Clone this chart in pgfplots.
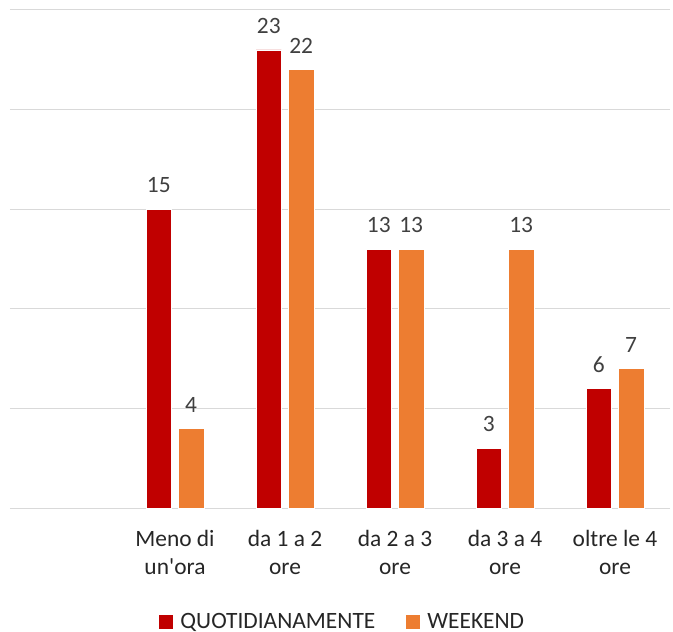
\documentclass[border=0pt]{standalone}
\usepackage{fontspec}
\setmainfont{Carlito}
\usepackage{pgfplots}
\pgfplotsset{compat=1.18}
\definecolor{cRed}{HTML}{C00000}
\definecolor{cOrange}{HTML}{ED7D31}
\definecolor{cGrid}{HTML}{D9D9D9}
\definecolor{cLabel}{HTML}{404040}
\definecolor{cText}{HTML}{262626}
\begin{document}
\begin{tikzpicture}
\begin{axis}[
  at={(0,0)}, anchor=south west,
  scale only axis, width=660bp, height=498bp,
  xmin=-0.5, xmax=5.5, ymin=0, ymax=25,
  ybar, bar width=0.23,
  axis x line*=bottom,
  axis y line*=left,
  x axis line style={cGrid, line width=1bp, -},
  y axis line style={draw=none},
  ytick={0,5,10,15,20,25},
  yticklabel=\empty,
  ymajorgrids,
  major grid style={cGrid, line width=1bp},
  xtick={1,2,3,4,5},
  xticklabels={{Meno di\\un\textquotesingle ora},{da 1 a 2\\ore},{da 2 a 3\\ore},{da 3 a 4\\ore},{oltre le 4\\ore}},
  xticklabel style={align=center, font=\fontsize{23.5}{28}\selectfont, text=cText, yshift=-19bp},
  major tick length=0pt,
  /pgf/number format/assume math mode=true,
  nodes near coords,
  every node near coord/.append style={font=\fontsize{23.5}{28}\selectfont, text=cLabel, anchor=south, inner sep=0pt, yshift=16bp},
  legend columns=2,
  legend style={at={(axis description cs:0.505,-0.228)}, anchor=center, draw=none, fill=none,
    font=\fontsize{23.5}{28}\selectfont, text=cText, inner sep=0pt,
    nodes={inner ysep=0pt, inner xsep=3bp},
    /tikz/every odd column/.append style={column sep=4bp},
    /tikz/every even column/.append style={column sep=28bp}},
  legend image code/.code={\fill[#1, draw=none] (0bp,-7bp) rectangle (14bp,7bp);},
  clip=false,
]
\addplot[fill=cRed, draw=white, line width=0.6bp, bar shift=-0.147] coordinates {(1,15) (2,23) (3,13) (4,3) (5,6)};
\addplot[fill=cOrange, draw=white, line width=0.6bp, bar shift=0.147] coordinates {(1,4) (2,22) (3,13) (4,13) (5,7)};
\legend{QUOTIDIANAMENTE, WEEKEND}
\end{axis}
\pgfresetboundingbox
\path[use as bounding box] (-10bp,-124bp) rectangle (663bp,508bp);
\end{tikzpicture}
\end{document}
